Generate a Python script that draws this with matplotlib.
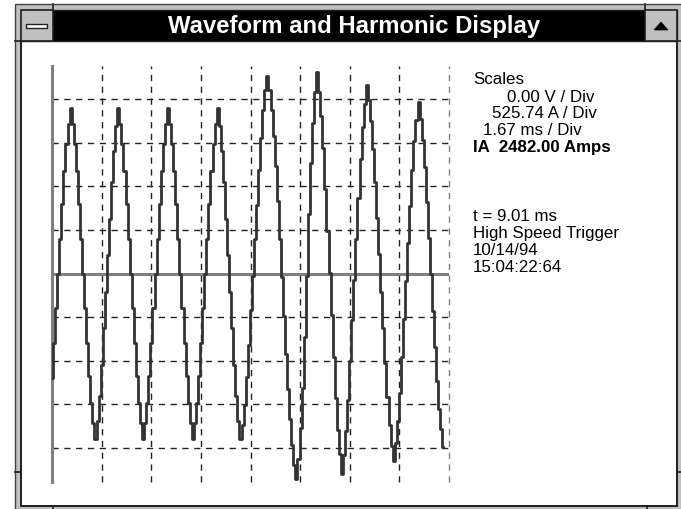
#!/usr/bin/env python3
"""
plot.py -- Redraws the 'Waveform and Harmonic Display' scope window.

Sampled phase-A current drawn as a stair-step trace on a dashed
8 x 8 division graticule, with the scale read-outs on the right.
"""

import numpy as np
import matplotlib
matplotlib.use('Agg')
import matplotlib.pyplot as plt
from matplotlib.patches import Rectangle, Polygon

# -- data -------------------------------------------------------------------
A_PER_DIV = 525.74          # A / Div
MS_PER_DIV = 1.67           # ms / Div
SAMPLE_MS = 0.0697          # time between recorded samples
N_DIV_X = 8

# IA samples
IA_DIV = [
    -2.4, -1.6, -0.8, 0.0, 0.8, 1.6, 2.36, 2.96, 3.42, 3.8,
    3.42, 2.96, 2.36, 1.6, 0.8, 0.0, -0.8, -1.6, -2.36, -2.96, -3.42, -3.8,
    -3.38, -2.81, -2.09, -1.25, -0.42, 0.42, 1.25, 2.09, 2.81, 3.38, 3.8,
    3.42, 2.96, 2.36, 1.6, 0.8, 0.0, -0.8, -1.6, -2.36, -2.96, -3.42, -3.8,
    -3.42, -2.96, -2.36, -1.6, -0.8, 0.0, 0.8, 1.6, 2.36, 2.96, 3.42, 3.8,
    3.42, 2.96, 2.36, 1.6, 0.8, 0.0, -0.8, -1.6, -2.36, -2.96, -3.42, -3.8,
    -3.42, -2.96, -2.36, -1.6, -0.8, 0.0, 0.8, 1.6, 2.36, 2.96, 3.42, 3.8,
    3.38, 2.81, 2.09, 1.25, 0.42, -0.42, -1.25, -2.09, -2.81, -3.38, -3.8,
    -3.47, -3.01, -2.38, -1.63, -0.84, -0.05, 0.79, 1.58, 2.37, 3.12, 3.75, 4.21, 4.54,
    4.22, 3.75, 3.15, 2.46, 1.67, 0.79, -0.09, -0.97, -1.85, -2.64, -3.33, -3.93, -4.4, -4.72,
    -4.25, -3.55, -2.62, -1.45, -0.05, 1.36, 2.53, 3.46, 4.16, 4.63,
    4.17, 3.61, 2.88, 1.95, 0.98, 0.02, -0.95, -1.92, -2.85, -3.59, -4.14, -4.6,
    -4.15, -3.62, -2.9, -2.01, -1.07, -0.14, 0.8, 1.74, 2.63, 3.35, 3.88, 4.33,
    3.99, 3.51, 2.86, 2.09, 1.27, 0.45, -0.42, -1.24, -2.06, -2.83, -3.48, -3.95, -4.3,
    -3.89, -3.39, -2.73, -1.91, -1.05, -0.18, 0.69, 1.55, 2.37, 3.03, 3.53, 3.94,
    3.54, 3.07, 2.44, 1.65, 0.82, -0.02, -0.85, -1.68, -2.47, -3.1, -3.57, -3.97,
]

GRID_Y_DIV = [-4, -3, -2, -1, 1, 2, 3, 4]
GRID_X_DIV = [1, 2, 3, 4, 5, 6, 7, 8]

TITLE = 'Waveform and Harmonic Display'
SCALE_LINES = ['Scales', '0.00 V / Div', '525.74 A / Div', '1.67 ms / Div']
PEAK_LINE = 'IA  2482.00 Amps'
INFO_LINES = ['t = 9.01 ms', 'High Speed Trigger', '10/14/94', '15:04:22:64']

# -- look -------------------------------------------------------------------
W, H = 681, 510
FRAME = '#c0c0c0'
EDGE = '#202020'
TRACE = '#333333'
AXIS_GRAY = '#808080'
FONT = ['Liberation Sans', 'DejaVu Sans']


def px_axes(fig):
    """Full-figure axes in pixel coords (origin top-left)."""
    bg = fig.add_axes([0, 0, 1, 1], zorder=0)
    bg.set_xlim(0, W)
    bg.set_ylim(H, 0)
    bg.set_axis_off()
    return bg


def draw_window(bg):
    # outer grey frame
    bg.add_patch(Rectangle((15, 5), W - 15 + 5, H, facecolor=FRAME,
                           edgecolor='#404040', lw=1.0))
    # client area
    bg.add_patch(Rectangle((21, 42), 656, 465, facecolor='white',
                           edgecolor=EDGE, lw=1.4))
    # title bar
    bg.add_patch(Rectangle((21, 11), 656, 31, facecolor='black',
                           edgecolor=EDGE, lw=1.0))
    # system menu box
    bg.add_patch(Rectangle((21, 11), 32, 31, facecolor=FRAME,
                           edgecolor=EDGE, lw=1.2))
    bg.add_patch(Rectangle((26, 25), 21, 3.5, facecolor='white',
                           edgecolor=EDGE, lw=1.0))
    # maximise box
    bg.add_patch(Rectangle((645, 11), 32, 31, facecolor=FRAME,
                           edgecolor=EDGE, lw=1.2))
    bg.add_patch(Polygon([(654, 31), (668, 31), (661, 23)], closed=True,
                         facecolor='black', edgecolor='black', lw=0.5))
    # frame notches
    for x0, y0, x1, y1 in [(53, 5, 53, 11), (645, 5, 645, 11),
                           (53, 507, 53, 510), (647, 507, 647, 510),
                           (15, 42, 21, 42), (15, 473, 21, 473),
                           (677, 42, 681, 42), (677, 473, 681, 473)]:
        bg.plot([x0, x1], [y0, y1], color=EDGE, lw=1.2)

    bg.text(354, 27, TITLE, color='white', fontsize=17.2, fontweight='bold',
            ha='center', va='center', family=FONT)

    # read-outs
    kw = dict(fontsize=12.2, ha='left', va='center', color='black', family=FONT)
    for (x, y), s in zip([(473, 80), (507, 97), (492, 114), (483, 131)],
                         SCALE_LINES):
        bg.text(x, y, s, **kw)
    bg.text(473, 148, PEAK_LINE, fontweight='bold', **kw)
    for y, s in zip([217, 234, 251, 268], INFO_LINES):
        bg.text(473, y, s, **kw)


def draw_scope(fig):
    # plot rectangle: x 52..449 px, y 67..483 px
    left, right, top, bottom = 52, 449, 67, 483
    ax = fig.add_axes([left / W, (H - bottom) / H,
                       (right - left) / W, (bottom - top) / H], zorder=2)
    ax.patch.set_alpha(0)
    for s in ax.spines.values():
        s.set_visible(False)
    ax.set_xticks([])
    ax.set_yticks([])

    x_max = N_DIV_X * MS_PER_DIV
    ax.set_xlim(0, x_max)
    ax.set_ylim(-4.78 * A_PER_DIV, 4.76 * A_PER_DIV)

    for g in GRID_Y_DIV:
        ax.plot([0, x_max], [g * A_PER_DIV] * 2, color='#222222', lw=1.0,
                dashes=(4.5, 4), zorder=1)
    for g in GRID_X_DIV:
        c = AXIS_GRAY if g == N_DIV_X else '#222222'
        ax.axvline(g * MS_PER_DIV, color=c, lw=1.0, dashes=(4.5, 4),
                   zorder=1, clip_on=False)

    ax.axhline(0, color=AXIS_GRAY, lw=2.2, zorder=2)
    ax.axvline(0, color=AXIS_GRAY, lw=2.2, zorder=2, clip_on=False)

    ia = np.array(IA_DIV) * A_PER_DIV
    t = np.arange(len(ia)) * SAMPLE_MS
    ax.plot(t, ia, color=TRACE, lw=2.0, drawstyle='steps-mid', zorder=3)


def main():
    plt.rcParams['font.family'] = FONT
    fig = plt.figure(figsize=(W / 100, H / 100), dpi=100)
    fig.patch.set_facecolor('white')
    bg = px_axes(fig)
    draw_window(bg)
    draw_scope(fig)
    fig.savefig('out.png', dpi=100, facecolor='white')
    plt.close(fig)


if __name__ == '__main__':
    main()
